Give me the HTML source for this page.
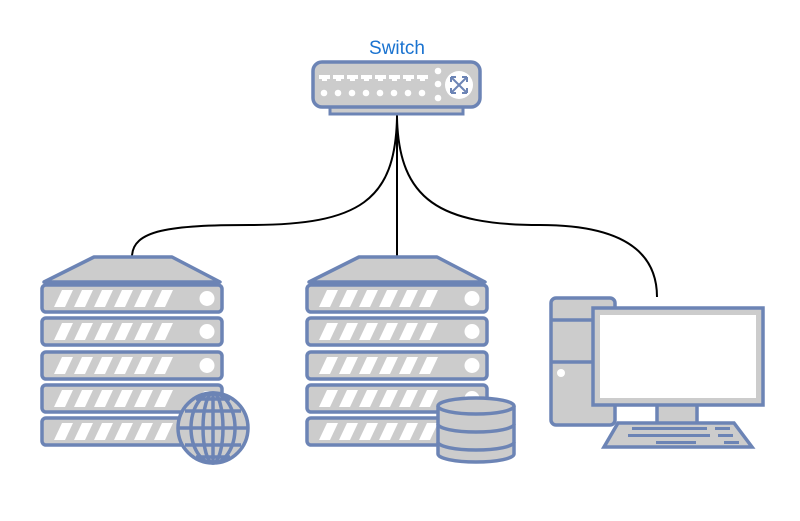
<!DOCTYPE html>
<html><head><meta charset="utf-8"><style>body{margin:0;background:#fff}svg{display:block}</style></head><body>
<svg width="800" height="521" viewBox="0 0 800 521" xmlns="http://www.w3.org/2000/svg">
<defs>
<g id="unit">
<rect x="0" y="0" width="180" height="27" rx="4" fill="#ccc" stroke="#6c84b5" stroke-width="3.5"/>
<g fill="#fff">
<polygon points="12,22 20,5 31,5 23,22"/><polygon points="32,22 40,5 51,5 43,22"/>
<polygon points="52,22 60,5 71,5 63,22"/><polygon points="72,22 80,5 91,5 83,22"/>
<polygon points="92,22 100,5 111,5 103,22"/><polygon points="112,22 120,5 131,5 123,22"/>
</g>
<circle cx="165" cy="13.5" r="7.5" fill="#fff"/>
</g>
<g id="server">
<polygon points="52,2 130,2 178,27 2,27" fill="#ccc" stroke="#6c84b5" stroke-width="3.5" stroke-linejoin="round"/>
<use href="#unit" x="0" y="30"/><use href="#unit" x="0" y="63"/><use href="#unit" x="0" y="97"/><use href="#unit" x="0" y="130"/><use href="#unit" x="0" y="163"/>
</g>
<path id="port" d="M0,0 h11 v4 h-3 v2 h-5 v-2 h-3 z" fill="#fff"/>
</defs>
<g fill="none" stroke="#000" stroke-width="2">
<path d="M397,115 L397,257"/>
<path d="M397,118 C395,200 360,225 250,225 C170,225 132,230 132,257"/>
<path d="M397,118 C399,200 440,225 540,225 C620,225 657,250 657,297"/>
</g>
<text x="397" y="54" font-family="Liberation Sans, sans-serif" font-size="19" fill="#1a73d0" text-anchor="middle">Switch</text>
<rect x="330" y="104" width="133" height="10" fill="#ccc" stroke="#6c84b5" stroke-width="3"/>
<rect x="313" y="62" width="167" height="45" rx="9" fill="#ccc" stroke="#6c84b5" stroke-width="3.5"/>
<use href="#port" x="319" y="75"/><use href="#port" x="333" y="75"/><use href="#port" x="347" y="75"/><use href="#port" x="361" y="75"/><use href="#port" x="375" y="75"/><use href="#port" x="389" y="75"/><use href="#port" x="403" y="75"/><use href="#port" x="417" y="75"/>
<g fill="#fff">
<circle cx="324" cy="93" r="3.3"/><circle cx="338" cy="93" r="3.3"/><circle cx="352" cy="93" r="3.3"/><circle cx="366" cy="93" r="3.3"/><circle cx="380" cy="93" r="3.3"/><circle cx="394" cy="93" r="3.3"/><circle cx="408" cy="93" r="3.3"/><circle cx="422" cy="93" r="3.3"/>
<circle cx="438" cy="71" r="3.3"/><circle cx="438" cy="84" r="3.3"/><circle cx="438" cy="98" r="3.3"/>
<circle cx="459" cy="85" r="14"/>
</g>
<g stroke="#6c84b5" stroke-width="2" fill="none"><path d="M451,77 L467,93 M467,77 L451,93 M451,77 h5 M451,77 v5 M467,77 h-5 M467,77 v5 M451,93 h5 M451,93 v-5 M467,93 h-5 M467,93 v-5"/></g>
<use href="#server" x="42" y="255"/>
<use href="#server" x="307" y="255"/>
<g stroke="#6c84b5" stroke-width="3.5" fill="#ccc">
<circle cx="213" cy="428" r="35"/>
<ellipse cx="213" cy="428" rx="22" ry="35" fill="none"/>
<ellipse cx="213" cy="428" rx="10" ry="35" fill="none"/>
<line x1="213" y1="393" x2="213" y2="463"/>
<line x1="178" y1="428" x2="248" y2="428"/>
<path d="M185,411 H241 M185,445 H241 M196,399 H230 M196,457 H230" fill="none"/>
</g>
<g stroke="#6c84b5" stroke-width="3.5" fill="#ccc">
<path d="M438,442 v12 a38,8 0 0 0 76,0 v-12"/>
<path d="M438,424 v18 a38,8 0 0 0 76,0 v-18"/>
<path d="M438,406 v18 a38,8 0 0 0 76,0 v-18"/>
<ellipse cx="476" cy="406" rx="38" ry="8"/>
</g>
<g stroke="#6c84b5" stroke-width="3.5" fill="#ccc">
<rect x="551" y="298" width="64" height="127" rx="5"/>
<line x1="551" y1="320" x2="615" y2="320"/><line x1="551" y1="362" x2="615" y2="362"/>
<rect x="657" y="404" width="40" height="20"/>
<polygon points="618,423 734,423 752,447 604,447"/>
<rect x="593" y="308" width="170" height="97"/>
</g>
<circle cx="561" cy="373" r="4" fill="#fff"/>
<rect x="600" y="315" width="156" height="83" fill="#fff"/>
<g fill="#6c84b5">
<rect x="632" y="427" width="75" height="3"/><rect x="715" y="427" width="15" height="3"/>
<rect x="628" y="434" width="82" height="3"/><rect x="718" y="434" width="15" height="3"/>
<rect x="656" y="441" width="40" height="3"/><rect x="724" y="441" width="15" height="3"/>
</g>
</svg>
</body></html>
